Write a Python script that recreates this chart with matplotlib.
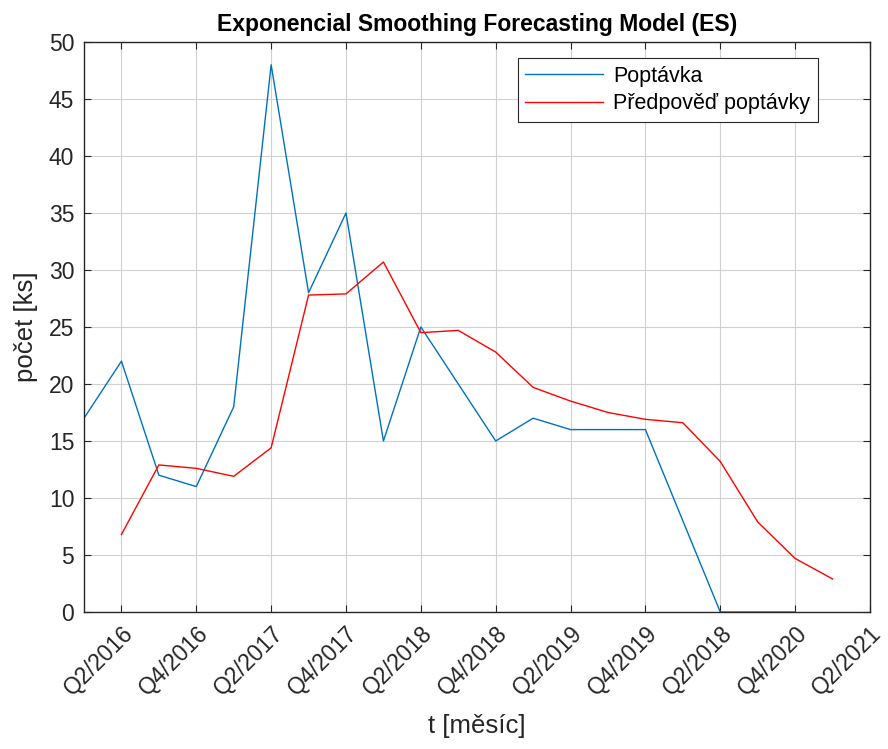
import matplotlib
matplotlib.use("Agg")
import matplotlib.pyplot as plt

plt.rcParams['font.family'] = ['Liberation Sans', 'DejaVu Sans']

# Quarter index: 0 = Q1/2016 ... 21 = Q2/2021
demand_q = list(range(0, 20))
demand = [17, 22, 12, 11, 18, 48, 28, 35, 15, 25, 20, 15, 17, 16, 16, 16, 8, 0, 0, 0]

forecast_q = list(range(1, 21))
forecast = [6.8, 12.9, 12.6, 11.9, 14.4, 27.8, 27.9, 30.7, 24.5, 24.7,
            22.8, 19.7, 18.5, 17.5, 16.9, 16.6, 13.2, 7.9, 4.7, 2.9]

tick_pos = list(range(1, 22, 2))
tick_labels = ['Q2/2016', 'Q4/2016', 'Q2/2017', 'Q4/2017', 'Q2/2018', 'Q4/2018',
               'Q2/2019', 'Q4/2019', 'Q2/2018', 'Q4/2020', 'Q2/2021']

fig = plt.figure(figsize=(8.88, 7.49), dpi=100)
ax = fig.add_axes([0.0946, 0.1829, 0.8851, 0.7611])

ax.plot(demand_q, demand, color=(0.0, 0.447, 0.741), lw=1.0, label='Poptávka')
ax.plot(forecast_q, forecast, color='red', lw=1.0, label='Předpověď poptávky')

ax.set_xlim(0, 21)
ax.set_ylim(0, 50)
ax.set_xticks(tick_pos)
ax.set_xticklabels(tick_labels, rotation=45, ha='right', rotation_mode='anchor')
ax.set_yticks(range(0, 51, 5))

ax.grid(True, color=(0.82, 0.82, 0.82), lw=0.8)
ax.set_axisbelow(True)
for s in ax.spines.values():
    s.set_color((0.15, 0.15, 0.15))
    s.set_linewidth(1.0)
ax.tick_params(direction='in', top=True, right=True, length=5, width=0.8,
               colors=(0.15, 0.15, 0.15), labelsize=16.5, pad=7)

ax.set_title('Exponencial Smoothing Forecasting Model (ES)', fontsize=16.5,
             fontweight='bold', pad=8)
ax.set_xlabel('t [měsíc]', fontsize=18.5, color=(0.15, 0.15, 0.15), labelpad=10)
ax.set_ylabel('počet [ks]', fontsize=18.5, color=(0.15, 0.15, 0.15), labelpad=8)

leg = ax.legend(loc='upper right', bbox_to_anchor=(0.9475, 0.99), fontsize=15.5,
                fancybox=False, framealpha=1, edgecolor=(0.15, 0.15, 0.15),
                handlelength=3.6, handletextpad=0.5, borderpad=0.35,
                labelspacing=0.3)
leg.get_frame().set_linewidth(0.8)

fig.savefig('out.png', dpi=100)
